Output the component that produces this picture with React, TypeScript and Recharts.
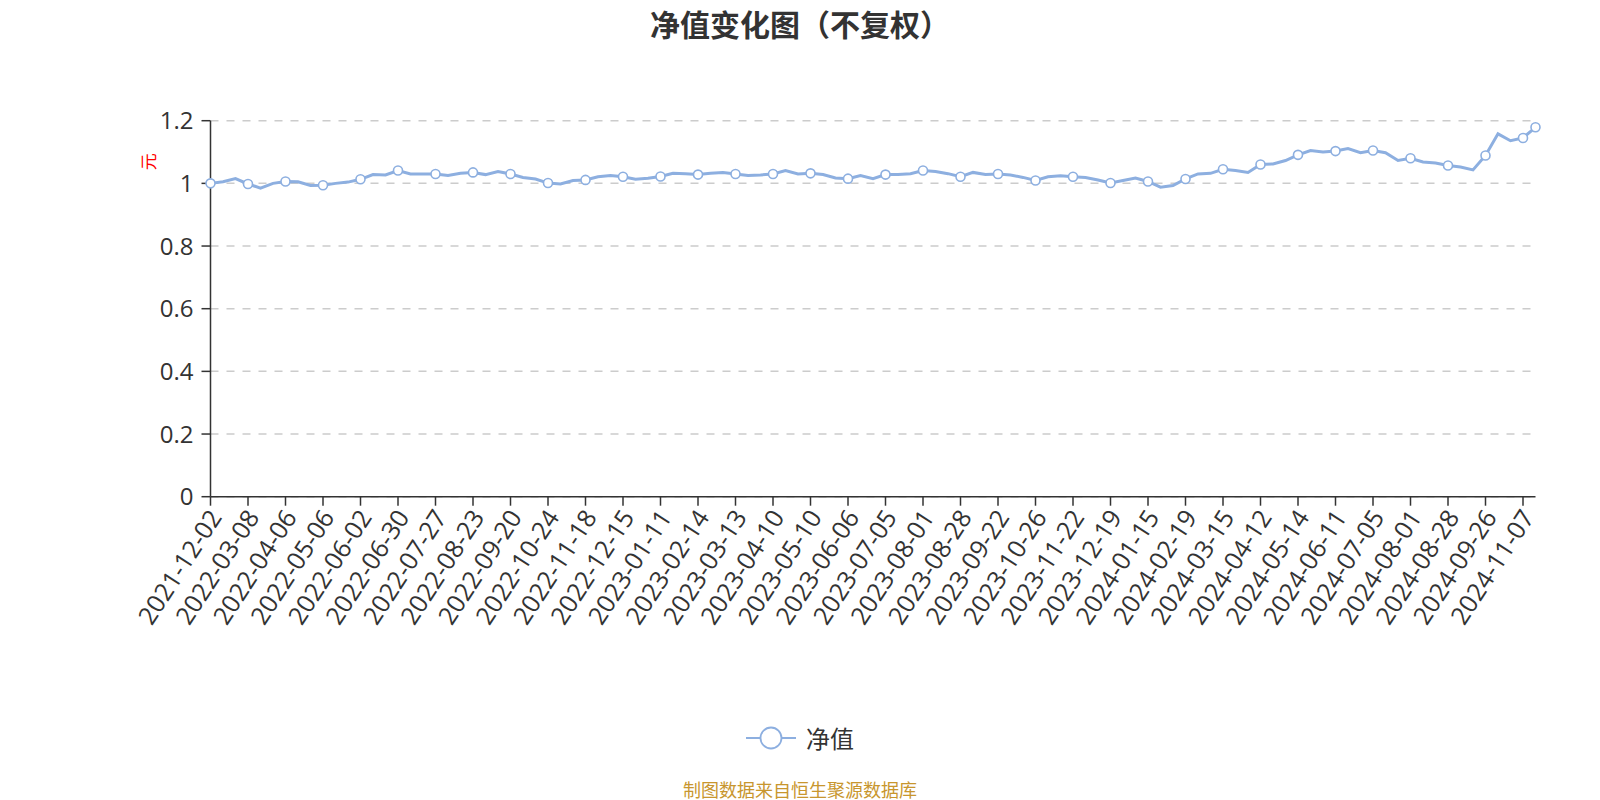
import React from 'react';
import { LineChart, Line, XAxis, YAxis, CartesianGrid, Legend } from 'recharts';

const dates: string[] = [
  '2021-12-02', '2021-12-31', '2022-01-28', '2022-03-08', '2022-03-16', '2022-03-25',
  '2022-04-06', '2022-04-15', '2022-04-26', '2022-05-06', '2022-05-16', '2022-05-24',
  '2022-06-02', '2022-06-13', '2022-06-21', '2022-06-30', '2022-07-08', '2022-07-18',
  '2022-07-27', '2022-08-04', '2022-08-12', '2022-08-23', '2022-08-31', '2022-09-08',
  '2022-09-20', '2022-09-28', '2022-10-14', '2022-10-24', '2022-11-01', '2022-11-09',
  '2022-11-18', '2022-11-28', '2022-12-06', '2022-12-15', '2022-12-23', '2023-01-03',
  '2023-01-11', '2023-01-19', '2023-02-06', '2023-02-14', '2023-02-22', '2023-03-02',
  '2023-03-13', '2023-03-21', '2023-03-29', '2023-04-10', '2023-04-18', '2023-04-26',
  '2023-05-10', '2023-05-18', '2023-05-26', '2023-06-06', '2023-06-14', '2023-06-26',
  '2023-07-05', '2023-07-13', '2023-07-21', '2023-08-01', '2023-08-09', '2023-08-17',
  '2023-08-28', '2023-09-05', '2023-09-13', '2023-09-22', '2023-10-10', '2023-10-18',
  '2023-10-26', '2023-11-03', '2023-11-13', '2023-11-22', '2023-11-30', '2023-12-08',
  '2023-12-19', '2023-12-27', '2024-01-05', '2024-01-15', '2024-01-23', '2024-01-31',
  '2024-02-19', '2024-02-27', '2024-03-06', '2024-03-15', '2024-03-25', '2024-04-02',
  '2024-04-12', '2024-04-22', '2024-04-30', '2024-05-14', '2024-05-22', '2024-05-30',
  '2024-06-11', '2024-06-19', '2024-06-27', '2024-07-05', '2024-07-15', '2024-07-23',
  '2024-08-01', '2024-08-09', '2024-08-19', '2024-08-28', '2024-09-05', '2024-09-13',
  '2024-09-26', '2024-10-08', '2024-10-22', '2024-11-07', '2024-11-15',
];

const navValues: number[] = [
  1.000, 1.005, 1.015, 0.998, 0.985, 1.000,
  1.006, 1.005, 0.993, 0.994, 1.000, 1.004,
  1.013, 1.028, 1.027, 1.041, 1.030, 1.030,
  1.030, 1.025, 1.032, 1.035, 1.028, 1.038,
  1.030, 1.019, 1.014, 1.001, 0.998, 1.009,
  1.011, 1.021, 1.025, 1.021, 1.013, 1.016,
  1.022, 1.032, 1.031, 1.028, 1.032, 1.035,
  1.030, 1.025, 1.027, 1.030, 1.041, 1.030,
  1.032, 1.028, 1.017, 1.015, 1.025, 1.015,
  1.028, 1.028, 1.031, 1.041, 1.038, 1.031,
  1.021, 1.035, 1.028, 1.030, 1.027, 1.019,
  1.009, 1.021, 1.024, 1.021, 1.019, 1.011,
  1.001, 1.009, 1.017, 1.006, 0.988, 0.993,
  1.014, 1.030, 1.032, 1.045, 1.041, 1.035,
  1.060, 1.062, 1.073, 1.091, 1.105, 1.100,
  1.103, 1.111, 1.098, 1.105, 1.098, 1.073,
  1.080, 1.068, 1.065, 1.057, 1.052, 1.043,
  1.089, 1.158, 1.136, 1.145, 1.179,
];

const yTicks: number[] = [0, 0.2, 0.4, 0.6, 0.8, 1, 1.2];

const seriesName = '净值';
const LINE_COLOR = '#8DAFE0';
const TEXT_COLOR = '#333333';
const FONT = "'Open Sans', 'Noto Sans CJK SC', sans-serif";
const CJK_FONT = "'Noto Sans CJK SC', sans-serif";

const data = dates.map((d, i) => ({ date: d, nav: navValues[i] }));
const LAST = data.length - 1;

const DateTick = (props: any) => {
  const { x, y, payload } = props;
  const ax = x + 4;
  return (
    <text
      x={ax}
      y={y}
      transform={`rotate(-57 ${ax} ${y})`}
      textAnchor="end"
      dominantBaseline="central"
      fill={TEXT_COLOR}
      fontSize={25}
      fontFamily={FONT}
    >
      {payload.value}
    </text>
  );
};

const renderDot = (p: any) => {
  const { cx, cy, index } = p;
  if (index % 3 !== 0 && index !== LAST) return <g key={`d${index}`} />;
  return (
    <circle
      key={`d${index}`}
      cx={cx}
      cy={cy}
      r={4.5}
      fill="#ffffff"
      stroke={LINE_COLOR}
      strokeWidth={1.6}
    />
  );
};

const UnitLabel = (props: any) => {
  const vb = props.viewBox || { x: 0, y: 0 };
  const x = vb.x + 148;
  const y = vb.y + 41;
  return (
    <text
      x={x}
      y={y}
      transform={`rotate(-90 ${x} ${y})`}
      textAnchor="middle"
      dominantBaseline="central"
      fill="#ff0000"
      fontSize={17}
      fontFamily={CJK_FONT}
    >
      元
    </text>
  );
};

const LegendContent = () => (
  <div
    style={{
      display: 'flex',
      justifyContent: 'center',
      alignItems: 'center',
      width: 1600,
      height: 26,
    }}
  >
    <svg width={50} height={26} style={{ display: 'block' }}>
      <line x1={0} y1={13} x2={50} y2={13} stroke={LINE_COLOR} strokeWidth={2} />
      <circle cx={25} cy={13} r={10.5} fill="#ffffff" stroke={LINE_COLOR} strokeWidth={1.8} />
    </svg>
    <span
      style={{
        marginLeft: 10,
        fontSize: 24,
        color: TEXT_COLOR,
        fontFamily: CJK_FONT,
        lineHeight: '26px',
      }}
    >
      {seriesName}
    </span>
  </div>
);

export default function App() {
  return (
    <div style={{ position: 'relative', width: 1600, height: 800, background: '#ffffff', fontFamily: FONT }}>
      <style>{'body{margin:0;}'}</style>
      <div
        style={{
          position: 'absolute',
          top: 6,
          left: 0,
          width: 1600,
          textAlign: 'center',
          fontSize: 30,
          lineHeight: '34px',
          fontWeight: 'bold',
          color: TEXT_COLOR,
          fontFamily: CJK_FONT,
        }}
      >
        净值变化图（不复权）
      </div>
      <LineChart
        width={1600}
        height={800}
        data={data}
        margin={{ top: 120.7, right: 64.5, bottom: 203.3, left: 0 }}
      >
        <CartesianGrid vertical={false} stroke="#cccccc" strokeDasharray="8 8" strokeWidth={1.5} />
        <XAxis
          dataKey="date"
          interval={2}
          height={100}
          tick={<DateTick />}
          tickSize={9}
          tickMargin={6}
          axisLine={{ stroke: TEXT_COLOR, strokeWidth: 1.5 }}
          tickLine={{ stroke: TEXT_COLOR, strokeWidth: 1.5 }}
        />
        <YAxis
          domain={[0, 1.2]}
          ticks={yTicks}
          interval={0}
          width={210.5}
          tickSize={9}
          tickMargin={8}
          axisLine={{ stroke: TEXT_COLOR, strokeWidth: 1.5 }}
          tickLine={{ stroke: TEXT_COLOR, strokeWidth: 1.5 }}
          tick={{ fill: TEXT_COLOR, fontSize: 24, fontFamily: FONT }}
          label={<UnitLabel />}
        />
        <Legend
          layout="horizontal"
          verticalAlign="middle"
          align="center"
          wrapperStyle={{ top: 725, left: 0, width: 1600 }}
          content={<LegendContent />}
        />
        <Line
          type="linear"
          dataKey="nav"
          name={seriesName}
          stroke={LINE_COLOR}
          strokeWidth={3}
          dot={renderDot}
          activeDot={false}
          isAnimationActive={false}
        />
      </LineChart>
      <div
        style={{
          position: 'absolute',
          top: 778,
          left: 0,
          width: 1600,
          textAlign: 'center',
          fontSize: 18,
          lineHeight: '22px',
          color: '#C8962E',
          fontFamily: CJK_FONT,
        }}
      >
        制图数据来自恒生聚源数据库
      </div>
    </div>
  );
}
